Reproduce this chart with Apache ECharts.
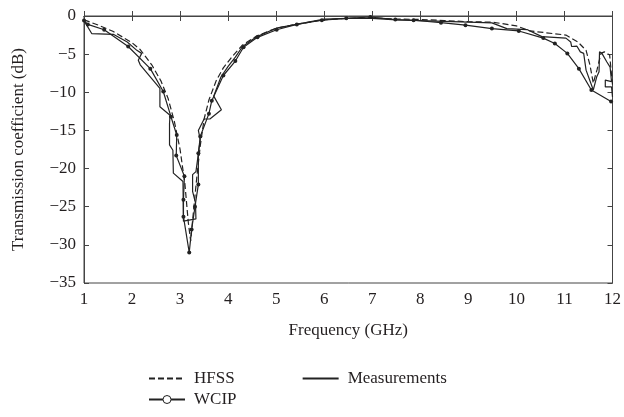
<!DOCTYPE html>
<html>
<head>
<meta charset="utf-8">
<script src="https://cdn.jsdelivr.net/npm/echarts@6/dist/echarts.min.js"></script>
<style>html,body{margin:0;padding:0;background:#fff}#c{width:624px;height:417px}</style>
</head>
<body>
<div id="c"></div>
<script>
var xTicks = [1,2,3,4,5,6,7,8,9,10,11,12];
var yTicks = [0,-5,-10,-15,-20,-25,-30,-35];

var hfssFreq = [1.0, 1.3, 1.6, 2.0, 2.17, 2.41, 2.6, 2.75, 2.88, 3.0, 3.1, 3.17, 3.22, 3.28, 3.35, 3.42, 3.5, 3.6, 3.75, 3.9, 4.1, 4.3, 4.6, 5.0, 5.5, 6.0, 6.5, 7.0, 7.5, 8.0, 8.5, 9.0, 9.5, 10.0, 10.28, 10.76, 11.03, 11.28, 11.45, 11.53, 11.6, 11.68, 11.76, 11.83, 11.94, 12.0];
var hfssDb = [-0.5, -1.2, -2.0, -3.5, -4.4, -6.4, -8.5, -10.8, -13.8, -17.5, -22.0, -27.0, -29.5, -25.5, -21.0, -17.0, -13.5, -11.0, -8.5, -6.8, -5.2, -3.8, -2.6, -1.6, -1.0, -0.5, -0.3, -0.25, -0.4, -0.45, -0.6, -0.75, -0.8, -1.3, -1.96, -2.3, -2.5, -3.4, -4.5, -6.4, -8.8, -7.0, -4.9, -4.7, -5.1, -9.0];

var wcipFreq = [1.0, 1.08, 1.42, 1.92, 2.38, 2.65, 2.81, 2.93, 2.92, 3.09, 3.07, 3.07, 3.19, 3.24, 3.31, 3.38, 3.38, 3.42, 3.60, 3.66, 3.90, 4.15, 4.32, 4.61, 5.01, 5.43, 5.95, 6.46, 6.96, 7.48, 7.86, 8.43, 8.94, 9.49, 10.05, 10.56, 10.80, 11.06, 11.30, 11.56, 11.97];
var wcipDb = [-0.6, -1.1, -1.8, -4.0, -6.9, -9.9, -13.2, -15.6, -18.3, -21.0, -24.1, -26.3, -31.0, -28.0, -25.0, -22.1, -18.0, -15.8, -12.8, -11.1, -7.8, -5.9, -4.1, -2.8, -1.8, -1.1, -0.56, -0.3, -0.13, -0.47, -0.56, -0.87, -1.2, -1.65, -1.96, -2.9, -3.6, -4.9, -6.9, -9.7, -11.2];

var measFreq = [1.0, 1.16, 1.61, 1.9, 2.1, 2.2, 2.13, 2.17, 2.58, 2.58, 2.79, 2.78, 2.78, 2.85, 2.86, 3.06, 3.07, 3.33, 3.32, 3.26, 3.26, 3.33, 3.42, 3.38, 3.5, 3.62, 3.86, 3.7, 3.85, 4.0, 4.15, 4.3, 4.6, 5.0, 5.5, 6.0, 6.5, 7.0, 7.5, 8.0, 8.5, 9.0, 9.49, 9.8, 10.22, 10.53, 11.03, 11.13, 11.15, 11.26, 11.33, 11.4, 11.45, 11.6, 11.67, 11.72, 11.73, 11.78, 11.88, 11.95, 11.98, 11.85, 11.85, 11.98, 12.0];
var measDb = [-0.6, -2.3, -2.4, -3.4, -4.5, -4.9, -5.8, -6.4, -9.5, -11.9, -13.0, -14.1, -16.9, -17.6, -20.6, -21.7, -26.9, -26.6, -24.5, -23.0, -20.8, -20.4, -16.2, -15.0, -13.5, -13.5, -12.3, -10.5, -8.0, -6.6, -5.4, -4.0, -2.7, -1.6, -1.0, -0.4, -0.3, -0.3, -0.5, -0.6, -0.7, -0.8, -0.9, -1.65, -1.78, -2.7, -2.9, -3.4, -4.0, -3.96, -4.7, -4.9, -7.1, -9.7, -8.0, -7.3, -4.7, -4.9, -6.0, -6.7, -8.6, -8.4, -9.3, -9.3, -10.6];

function pairs(xs, ys){ return xs.map(function(x,i){ return [x, ys[i]]; }); }

var font = 'Liberation Serif';
var ink = '#231f20';
var chart = echarts.init(document.getElementById('c'), null, {renderer:'canvas'});
chart.setOption({
  animation: false,
  backgroundColor: '#fff',
  textStyle: {fontFamily: font, color: ink},
  grid: {left: 84, right: 11, top: 16, bottom: 134, show: true, borderColor: '#444', borderWidth: 1},
  xAxis: [{
    type: 'value', min: 1, max: 12, interval: 1,
    name: 'Frequency (GHz)', nameLocation: 'middle', nameGap: 39,
    nameTextStyle: {fontFamily: font, fontSize: 17, color: ink},
    axisLine: {show: true, lineStyle: {color: '#444'}},
    axisTick: {show: true, inside: true, length: 5, lineStyle: {color: '#444'}},
    axisLabel: {fontFamily: font, fontSize: 17, color: ink, margin: 8, formatter: function(v){ return xTicks.indexOf(v) >= 0 ? String(v) : ''; }},
    splitLine: {show: false}
  },{
    type: 'value', min: 1, max: 12, interval: 1, position: 'top',
    axisLine: {show: true, lineStyle: {color: '#444'}},
    axisTick: {show: true, inside: true, length: 5, lineStyle: {color: '#444'}},
    axisLabel: {show: false}, splitLine: {show: false}
  }],
  yAxis: [{
    type: 'value', min: -35, max: 0, interval: 5,
    name: 'Transmission coefficient (dB)', nameLocation: 'middle', nameGap: 57, nameRotate: 90,
    nameTextStyle: {fontFamily: font, fontSize: 17, color: ink},
    axisLine: {show: true, lineStyle: {color: '#444'}},
    axisTick: {show: true, inside: true, length: 5, lineStyle: {color: '#444'}},
    axisLabel: {fontFamily: font, fontSize: 17, color: ink, margin: 8, formatter: function(v){ return yTicks.indexOf(v) >= 0 ? (v < 0 ? '\u2212' + (-v) : String(v)) : ''; }},
    splitLine: {show: false}
  },{
    type: 'value', min: -35, max: 0, interval: 5, position: 'right',
    axisLine: {show: true, lineStyle: {color: '#444'}},
    axisTick: {show: true, inside: true, length: 5, lineStyle: {color: '#444'}},
    axisLabel: {show: false}, splitLine: {show: false}
  }],
  legend: [{
    left: 143, top: 365, orient: 'horizontal', itemWidth: 36, itemHeight: 10, itemGap: 67,
    textStyle: {fontFamily: font, fontSize: 17, color: ink, padding: [0,0,0,4]},
    data: [{name: 'HFSS', itemStyle: {opacity: 0}}, {name: 'Measurements', itemStyle: {opacity: 0}}]
  },{
    left: 143, top: 386, orient: 'horizontal', itemWidth: 36, itemHeight: 10,
    textStyle: {fontFamily: font, fontSize: 17, color: ink, padding: [0,0,0,4]},
    data: [{name: 'WCIP', itemStyle: {color: '#fff', borderColor: '#222', borderWidth: 1}}]
  }],
  series: [{
    name: 'HFSS', type: 'line', symbol: 'none',
    data: pairs(hfssFreq, hfssDb),
    lineStyle: {color: '#222', width: 1.2, type: [6, 3]},
    itemStyle: {color: '#222'}
  },{
    name: 'Measurements', type: 'line', symbol: 'none',
    data: pairs(measFreq, measDb),
    lineStyle: {color: '#222', width: 1.2},
    itemStyle: {color: '#222'}
  },{
    name: 'WCIP', type: 'line', symbol: 'circle', symbolSize: 4,
    data: pairs(wcipFreq, wcipDb),
    lineStyle: {color: '#222', width: 1.2},
    itemStyle: {color: '#222', borderColor: '#222', borderWidth: 0}
  }]
});
</script>
</body>
</html>
